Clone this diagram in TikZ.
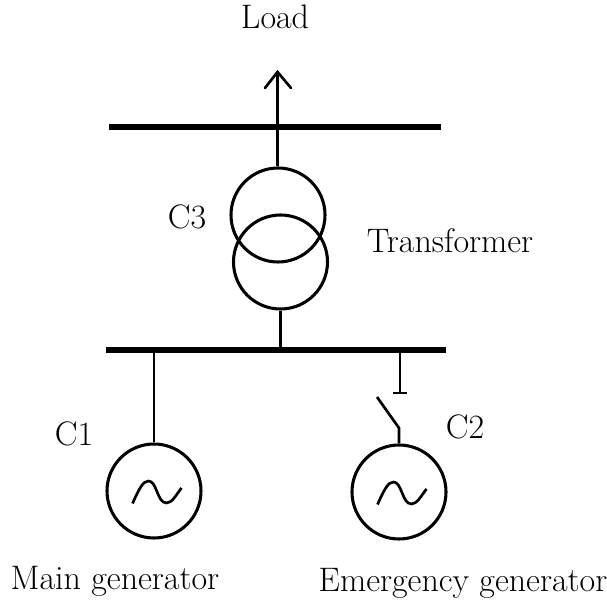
\documentclass[tikz,border=0pt]{standalone}
\tikzset{
  bus/.style={line width=5pt},
  wire/.style={line width=2pt},
  thin wire/.style={line width=1.4pt},
  coil/.style={draw,circle,line width=2.3pt,minimum size=70.5pt,inner sep=0},
  lbl/.style={font=\fontsize{25.5}{30}\selectfont,inner sep=0}
}
\begin{document}
\begin{tikzpicture}[x=0.75pt,y=-0.75pt]
  \useasboundingbox (0,0) rectangle (607,605);

  \node (load) at (275,17) [lbl]{Load};
  \node (c3) at (187,217) [lbl]{C3};
  \node (xfmr) at (450,241) [lbl]{Transformer};
  \node (c1) at (74,434) [lbl]{C1};
  \node (c2) at (465,427) [lbl]{C2};
  \node (maingen) at (115,581) [lbl]{Main generator};
  \node (emgen) at (463,583) [lbl]{Emergency generator};

  \node (coil1) at (278,215) [coil]{};
  \node (coil2) at (280.5,262) [coil]{};
  \node (gen1) at (154,491) [coil]{};
  \node (gen2) at (399,492) [coil]{};

  \coordinate (top1) at (109,127);
  \coordinate (top2) at (441,127);
  \coordinate (low1) at (106,350);
  \coordinate (low2) at (446,350);
  \coordinate (tip) at (277.5,72);
  \coordinate (stub) at (400,393);
  \coordinate (blade) at (377,397);
  \coordinate (hinge) at (399,428);

  \draw[bus] (top1) -- (top2);
  \draw[bus] (low1) -- (low2);

  \draw[wire] (tip |- coil1.north) -- (tip);
  \draw[wire,line cap=round] (265,88) -- (tip) -- (291,88);
  \draw[wire] (coil2.south) -- (coil2.south |- low1);
  \draw[wire] (gen1.north) -- (gen1.north |- low1);

  \draw[wire] (stub) -- (stub |- low1);
  \draw[thin wire] ([xshift=-5pt]stub) -- ([xshift=5pt]stub);
  \draw[wire] (blade) -- (hinge) -- (gen2.north);

  \foreach \g in {gen1,gen2}
    \draw[wire,shift={(\g)}] (-21.5,12.5) .. controls (-15,-2) and (-11,-10) .. (-5.5,-10)
      .. controls (3,-10) and (3,12) .. (12.5,12) .. controls (18,12) and (22,4) .. (27.5,-3);
\end{tikzpicture}
\end{document}
